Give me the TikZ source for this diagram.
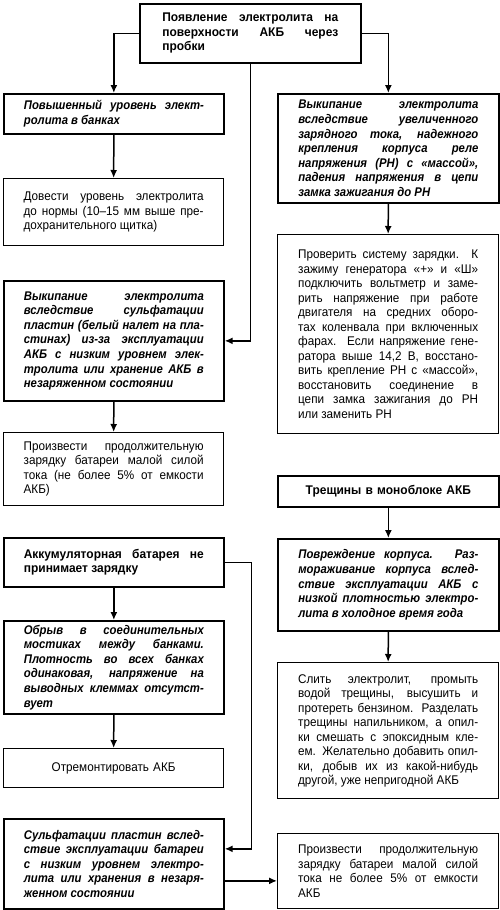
\documentclass[tikz,border=0pt]{standalone}
\usepackage{fontspec}
\setmainfont{Liberation Sans}[UprightFeatures={FakeStretch=0.93},BoldFeatures={FakeStretch=0.95},
	BoldItalicFeatures={FakeStretch=0.9}]
\usetikzlibrary{arrows.meta}

\begin{document}
\begin{tikzpicture}[x=1pt,y=-1pt,
	>={Latex[length=8pt,width=7pt]},
	box/.style={draw,anchor=north west,inner xsep=0pt,inner ysep=1pt,text width=180pt,
		minimum width=220pt,align=justify,font=\fontsize{12.6}{14.5}\selectfont},
	cause/.style={box,line width=1.7pt,font=\fontsize{12.6}{14.6}\selectfont\bfseries\itshape},
	head/.style={box,line width=1.7pt,font=\fontsize{12.6}{14.6}\selectfont\bfseries},
	act/.style={box,line width=1.3pt},
	conn/.style={line width=1.5pt}]
\useasboundingbox (0,0) rectangle (500,910);
% left column
\node[head,minimum width=221pt,minimum height=59pt,text width=176pt] (top) at (139,3)
	{Появление электролита на\linebreak поверхности АКБ через\linebreak пробки};
\node[cause,minimum height=40pt] (a1) at (3,93) {Повышенный уровень элект-\linebreak ролита в банках};
\node[act,minimum height=67pt] (a2) at (3,178)
	{Довести уровень электролита\linebreak до нормы (10--15 мм выше пре-\linebreak дохранительного щитка)};
\node[cause,minimum height=120pt] (a3) at (3,280)
	{Выкипание электролита\linebreak вследствие сульфатации\linebreak пластин (белый налет на пла-\linebreak
	стинах) из-за эксплуатации\linebreak АКБ с низким уровнем элек-\linebreak тролита или хранение АКБ в\linebreak
	незаряженном состоянии};
\node[act,minimum height=73pt] (a4) at (3,432)
	{Произвести продолжительную\linebreak зарядку батареи малой силой\linebreak тока (не более 5\% от емкости\linebreak АКБ)};
\node[head,minimum height=49pt] (d1) at (3,537) {Аккумуляторная батарея не\linebreak принимает зарядку};
\node[cause,minimum height=93pt] (d2) at (3,620)
	{Обрыв в соединительных\linebreak мостиках между банками.\linebreak Плотность во всех банках\linebreak
	одинаковая, напряжение на\linebreak выводных клеммах отсутст-\linebreak вует};
\node[act,minimum height=39pt,align=center] (d3) at (3,748) {Отремонтировать АКБ};
\node[cause,minimum height=90pt] (d4) at (3,818)
	{Сульфатации пластин вслед-\linebreak ствие эксплуатации батареи\linebreak с низким уровнем электро-\linebreak
	лита или хранения в незаря-\linebreak женном состоянии};
% right column
\node[cause,minimum width=221pt,minimum height=109pt] (b1) at (277,93)
	{Выкипание электролита\linebreak вследствие увеличенного\linebreak зарядного тока, надежного\linebreak
	крепления корпуса реле\linebreak напряжения (РН) с «массой»,\linebreak падения напряжения в цепи\linebreak
	замка зажигания до РН};
\node[act,minimum width=221pt,minimum height=199pt] (b2) at (277,234)
	{Проверить систему зарядки. К\linebreak зажиму генератора «+» и «Ш»\linebreak подключить вольтметр и заме-\linebreak
	рить напряжение при работе\linebreak двигателя на средних оборо-\linebreak тах коленвала при включенных\linebreak
	фарах. Если напряжение гене-\linebreak ратора выше 14,2 В, восстано-\linebreak вить крепление РН с «массой»,\linebreak
	восстановить соединение в\linebreak цепи замка зажигания до РН\linebreak или заменить РН};
\node[head,minimum width=221pt,minimum height=31pt,align=center] (c1) at (277,475) {Трещины в моноблоке АКБ};
\node[cause,minimum width=221pt,minimum height=92pt] (c2) at (277,538)
	{Повреждение корпуса. Раз-\linebreak мораживание корпуса вслед-\linebreak ствие эксплуатации АКБ с\linebreak
	низкой плотностью электро-\linebreak лита в холодное время года};
\node[act,minimum width=221pt,minimum height=136pt] (c3) at (277,662)
	{Слить электролит, промыть\linebreak водой трещины, высушить и\linebreak протереть бензином. Разделать\linebreak
	трещины напильником, а опил-\linebreak ки смешать с эпоксидным кле-\linebreak ем. Желательно добавить опил-\linebreak
	ки, добыв их из какой-нибудь\linebreak другой, уже непригодной АКБ};
\node[act,minimum width=221pt,minimum height=75pt] (d5) at (277,833)
	{Произвести продолжительную\linebreak зарядку батареи малой силой\linebreak тока не более 5\% от емкости\linebreak АКБ};
% connectors
\coordinate (d4in) at ([yshift=15pt]d4.east);
\coordinate (d4out) at ([yshift=-17pt]d4.east);
\draw[conn,->] (top.west) -| (a1.north);
\draw[conn,->] (top.east) -| (b1.north);
\draw[conn,->] (top.south) |- (a3.east);
\foreach \u/\v in {a1/a2,a3/a4,d1/d2,d2/d3,b1/b2,c1/c2,c2/c3}
	\draw[conn,->] (\u.south) -- (\v.north);
\draw[conn,->] (d1.east) -- ++(27,0) |- (d4in);
\draw[conn,->] (d4out) -- (d4out -| d5.west);
\end{tikzpicture}
\end{document}
